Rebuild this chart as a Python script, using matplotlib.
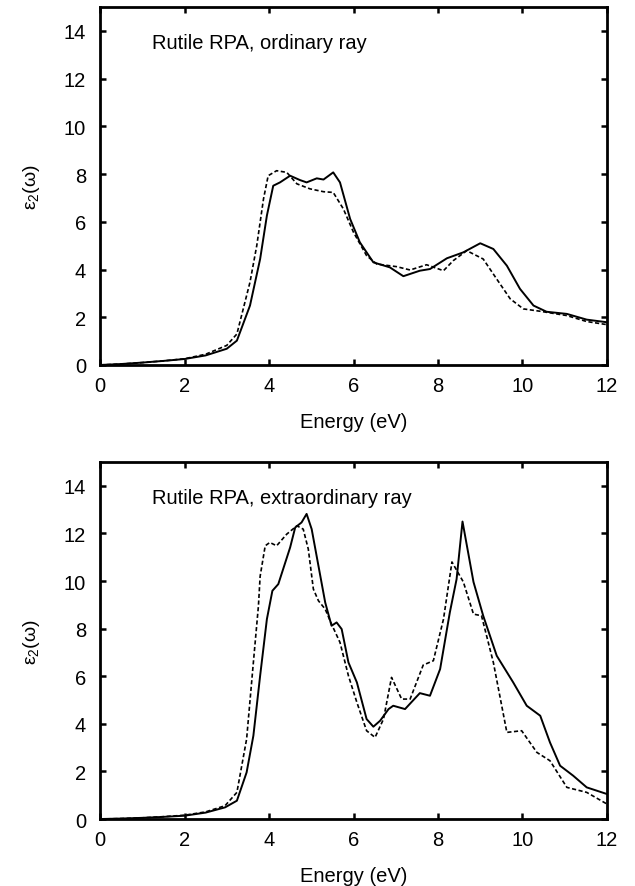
import matplotlib
matplotlib.use("Agg")
import matplotlib.pyplot as plt
import numpy as np

plt.rcParams['font.family'] = ['Liberation Sans', 'DejaVu Sans']
plt.rcParams['mathtext.fontset'] = 'custom'
plt.rcParams['mathtext.rm'] = 'Liberation Sans'
plt.rcParams['mathtext.it'] = 'Liberation Sans'

# Ordinary ray, solid curve
ord_solid_E = [0.0, 0.5, 1.0, 1.5, 2.0, 2.5, 3.0, 3.24, 3.55, 3.79, 3.95, 4.10, 4.26, 4.50, 4.73, 4.89,
               5.13, 5.29, 5.52, 5.68, 5.92, 6.15, 6.47, 6.86, 7.18, 7.57, 7.81, 8.21, 8.60, 9.00,
               9.31, 9.63, 9.94, 10.26, 10.57, 11.05, 11.52, 12.0]
ord_solid_v = [0.0, 0.04, 0.1, 0.17, 0.25, 0.4, 0.68, 1.02, 2.49, 4.44, 6.26, 7.51, 7.65, 7.93, 7.75, 7.65,
               7.82, 7.77, 8.07, 7.65, 6.12, 5.14, 4.30, 4.09, 3.72, 3.95, 4.02, 4.47, 4.72, 5.10,
               4.86, 4.16, 3.19, 2.49, 2.23, 2.14, 1.90, 1.79]
# Ordinary ray, dashed curve
ord_dash_E = [0.0, 0.5, 1.0, 1.5, 2.0, 2.5, 3.0, 3.24, 3.55, 3.71, 3.87, 3.98, 4.18, 4.42, 4.66, 4.97,
              5.29, 5.52, 5.76, 6.00, 6.31, 6.55, 7.02, 7.34, 7.73, 8.13, 8.36, 8.68, 9.07, 9.39,
              9.71, 10.02, 10.42, 11.05, 11.52, 12.0]
ord_dash_v = [0.0, 0.04, 0.1, 0.17, 0.26, 0.45, 0.82, 1.30, 3.47, 5.0, 6.96, 7.93, 8.14, 8.07, 7.59, 7.38,
              7.26, 7.23, 6.54, 5.56, 4.58, 4.23, 4.12, 3.98, 4.20, 3.95, 4.37, 4.79, 4.44, 3.60,
              2.77, 2.35, 2.25, 2.07, 1.82, 1.69]

# Extraordinary ray, solid curve
ext_solid_E = [0.0, 0.5, 1.0, 1.5, 2.0, 2.5, 2.96, 3.24, 3.47, 3.63, 3.79, 3.95, 4.08, 4.22, 4.50, 4.62,
               4.77, 4.89, 5.01, 5.17, 5.33, 5.48, 5.60, 5.72, 5.88, 6.08, 6.31, 6.47, 6.63, 6.83,
               6.94, 7.22, 7.57, 7.81, 8.05, 8.28, 8.44, 8.58, 8.84, 9.07, 9.39, 9.78, 10.10,
               10.42, 10.65, 10.89, 11.20, 11.52, 12.0]
ext_solid_v = [0.0, 0.02, 0.05, 0.09, 0.14, 0.27, 0.49, 0.77, 1.96, 3.50, 6.02, 8.40, 9.59, 9.87, 11.41, 12.25,
               12.46, 12.82, 12.18, 10.64, 9.10, 8.12, 8.26, 7.98, 6.58, 5.74, 4.20, 3.88, 4.13, 4.62,
               4.76, 4.62, 5.29, 5.18, 6.30, 8.68, 10.08, 12.5, 9.96, 8.54, 6.86, 5.74, 4.76,
               4.34, 3.22, 2.24, 1.82, 1.33, 1.05]
# Extraordinary ray, dashed curve
ext_dash_E = [0.0, 0.5, 1.0, 1.5, 2.0, 2.5, 2.96, 3.24, 3.47, 3.63, 3.75, 3.79, 3.91, 4.02, 4.18, 4.42,
              4.66, 4.81, 4.93, 5.05, 5.17, 5.33, 5.48, 5.68, 5.88, 6.08, 6.31, 6.51, 6.71, 6.90,
              7.14, 7.34, 7.65, 7.89, 8.13, 8.33, 8.60, 8.84, 9.03, 9.31, 9.63, 9.98, 10.34,
              10.65, 11.05, 11.52, 12.0]
ext_dash_v = [0.0, 0.02, 0.05, 0.1, 0.16, 0.3, 0.56, 1.12, 3.36, 6.58, 8.96, 10.2, 11.48, 11.62, 11.48, 11.97,
              12.32, 12.18, 11.34, 9.66, 9.17, 8.82, 8.19, 7.42, 6.02, 4.90, 3.71, 3.43, 4.20, 5.95,
              5.04, 5.04, 6.47, 6.65, 8.40, 10.8, 9.96, 8.61, 8.54, 6.58, 3.64, 3.71, 2.80,
              2.45, 1.33, 1.12, 0.63]

panels = [
    ("Rutile RPA, ordinary ray", ord_solid_E, ord_solid_v, ord_dash_E, ord_dash_v),
    ("Rutile RPA, extraordinary ray", ext_solid_E, ext_solid_v, ext_dash_E, ext_dash_v),
]

fig = plt.figure(figsize=(6.35, 8.87), dpi=100)
boxes = [[0.1575, 0.5874, 0.7984, 0.4036], [0.1575, 0.0755, 0.7984, 0.4025]]

for box, (title, sE, sv, dE, dv) in zip(boxes, panels):
    ax = fig.add_axes(box)
    ax.plot(sE, sv, color='black', lw=1.4, ls='-')
    ax.plot(dE, dv, color='black', lw=1.2, ls=(0, (2.5, 1.5)))
    ax.set_xlim(0, 12)
    ax.set_ylim(0, 15)
    ax.set_xticks(np.arange(0, 13, 2))
    ax.set_yticks(np.arange(0, 15, 2))
    ax.tick_params(direction='in', top=True, right=True, length=4, width=1.8,
                   labelsize=14.5)
    ax.tick_params(axis='x', pad=8)
    ax.tick_params(axis='y', pad=10)
    for sp in ax.spines.values():
        sp.set_linewidth(2.0)
    ax.set_xlabel("Energy (eV)", fontsize=14.5, labelpad=12)
    ax.set_ylabel(r"$\mathrm{\varepsilon_2(\omega)}$", fontsize=14, labelpad=16)
    ax.text(0.102, 0.90, title, transform=ax.transAxes, fontsize=14.5,
            ha='left', va='center')

fig.savefig("out.png", dpi=100)
